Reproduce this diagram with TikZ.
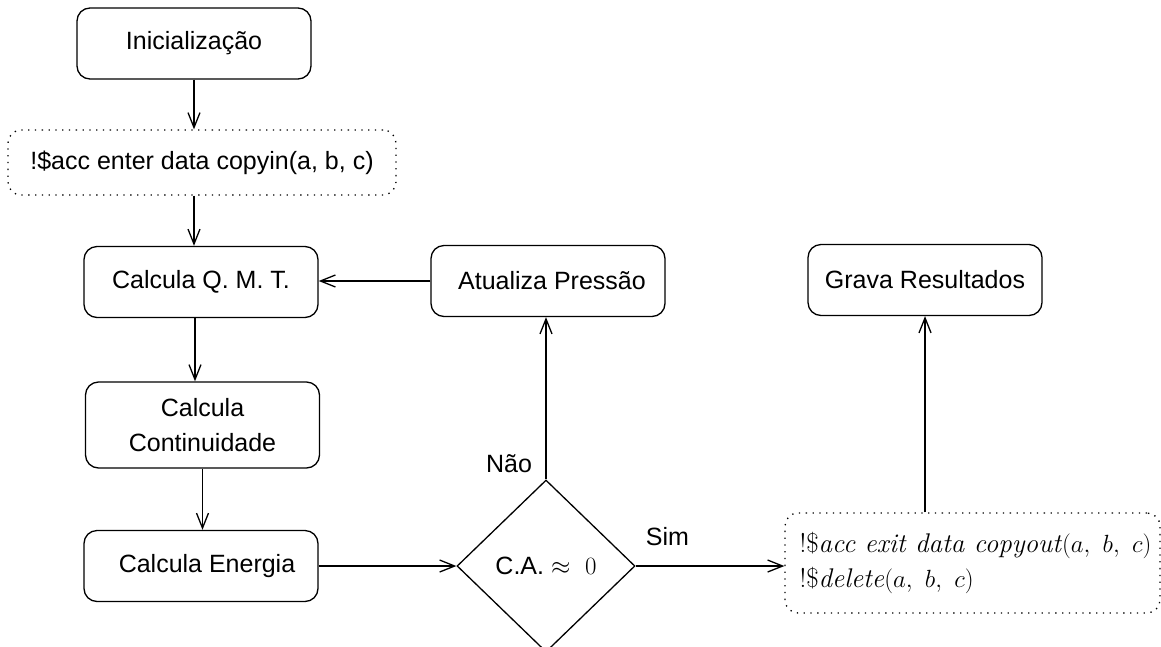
\documentclass[tikz,border=0pt]{standalone}
\usepackage{fontspec}
\newfontfamily\arial{Liberation Sans}
\usetikzlibrary{shapes.geometric,arrows.meta}

\begin{document}
\begin{tikzpicture}[x=1pt,y=-1pt,
  box/.style={draw, line width=1.3pt, rounded corners=13pt,
    minimum width=234pt, minimum height=71pt, inner sep=0pt,
    font=\arial\fontsize{25}{35}\selectfont, align=center},
  dotbox/.style={draw, line width=1.3pt, dash pattern=on 1.3pt off 5.5pt,
    rounded corners=13pt, inner sep=0pt},
  decision/.style={draw, diamond, line width=1.3pt, inner sep=0pt,
    minimum width=178pt, minimum height=172pt,
    font=\arial\fontsize{25}{30}\selectfont},
  arr/.style={line width=1.3pt,
    -{Straight Barb[length=15pt,width=12pt,line width=1.3pt]}},
  lbl/.style={font=\arial\fontsize{25}{30}\selectfont, inner sep=0pt}
]
\useasboundingbox (0,0) rectangle (1161,646);

% main column
\node[box] (init) at (194,43.5) {Inicialização};
\node[dotbox, minimum width=388pt, minimum height=65pt,
      font=\arial\fontsize{25}{30}\selectfont] (copyin) at (202,162.5)
      {!\$acc enter data copyin(a, b, c)};
\node[box] (qmt) at (201,282) {Calcula Q. M. T.};
\node[box, minimum height=86pt] (cont) at (202.5,425) {Calcula\\Continuidade};
\node[box] (energ) at (201,566) {\hspace*{12pt}Calcula Energia};

% convergence test and its branches
\node[decision] (ca) at (546,566)
  {C.A. {\fontsize{28}{30}\selectfont$\approx\ 0$}};
\node[box] (atual) at (548,281) {\hspace*{8pt}Atualiza Pressão};
\node[box] (grava) at (925,280) {Grava Resultados};
\node[dotbox, minimum width=375pt, minimum height=100pt, align=left,
      font=\fontsize{27}{35}\selectfont] (exit) at (972.5,563)
  {\hspace*{6pt}!\$\textit{acc exit data copyout}$(a,\ b,\ c)$\\
   \hspace*{6pt}!\$\textit{delete}$(a,\ b,\ c)$};

\node[lbl] (nao) at (509,463.5) {Não};
\node[lbl] (sim) at (667.5,536.5) {Sim};

% connectors
\draw[arr] (init.south) -- (init.south |- copyin.north);
\draw[arr] (copyin.south -| init.south) -- (init.south |- qmt.north);
\draw[arr] ([xshift=-6pt]qmt.south) -- ([xshift=-6pt]qmt.south |- cont.north);
\draw[arr] (cont.south) -- (cont.south |- energ.north);
\draw[arr] (energ.east) -- (ca.west);
\draw[arr] (ca.north) -- (ca.north |- atual.south);
\draw[arr] (atual.west) -- (atual.west -| qmt.east);
\draw[arr] (ca.east) -- (ca.east -| exit.west);
\draw[arr] (exit.north -| grava.south) -- (grava.south);
\end{tikzpicture}
\end{document}
